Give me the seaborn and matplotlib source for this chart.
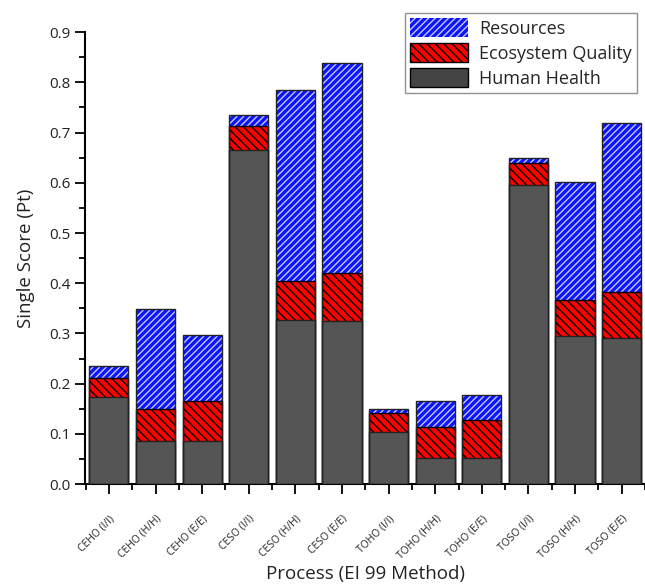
import matplotlib
matplotlib.use("Agg")
import matplotlib.pyplot as plt
import seaborn as sns
import numpy as np
import pandas as pd
from matplotlib.patches import Patch
from matplotlib.ticker import MultipleLocator, FixedLocator, FormatStrFormatter

sns.set_theme(style="ticks")
plt.rcParams['font.family'] = ['Open Sans', 'DejaVu Sans']
plt.rcParams['hatch.linewidth'] = 1.0

processes = ["CEHO (I/I)", "CEHO (H/H)", "CEHO (E/E)",
             "CESO (I/I)", "CESO (H/H)", "CESO (E/E)",
             "TOHO (I/I)", "TOHO (H/H)", "TOHO (E/E)",
             "TOSO (I/I)", "TOSO (H/H)", "TOSO (E/E)"]
human_health = [0.173, 0.086, 0.085, 0.665, 0.326, 0.324,
                0.103, 0.052, 0.052, 0.595, 0.294, 0.291]
ecosystem_quality = [0.039, 0.064, 0.081, 0.048, 0.078, 0.097,
                     0.038, 0.061, 0.075, 0.045, 0.072, 0.091]
resources = [0.023, 0.198, 0.131, 0.022, 0.381, 0.417,
             0.008, 0.052, 0.051, 0.009, 0.235, 0.337]

df = pd.DataFrame({
    "process": processes,
    "hh": human_health,
    "eq": ecosystem_quality,
    "res": resources,
})
df["hh_eq"] = df["hh"] + df["eq"]
df["total"] = df["hh_eq"] + df["res"]

fig = plt.figure(figsize=(6.45, 5.84), dpi=100)
ax = fig.add_axes([0.132, 0.171, 0.868, 0.774])

bw = 0.84
blue, red, grey = "#0a14ff", "#ff0000", "#555555"

# stacked layers drawn as cumulative overlays
sns.barplot(data=df, x="process", y="total", color=blue, width=bw,
            saturation=1, ax=ax, edgecolor="#c8c8ff", linewidth=0,
            hatch="/////", zorder=2)
sns.barplot(data=df, x="process", y="hh_eq", color=red, width=bw,
            saturation=1, ax=ax, edgecolor="black", linewidth=1.0,
            hatch="\\\\\\\\", zorder=3)
sns.barplot(data=df, x="process", y="hh", color=grey, width=bw,
            saturation=1, ax=ax, edgecolor="#222222", linewidth=1.0, zorder=4)
# outline of the full stack
sns.barplot(data=df, x="process", y="total", width=bw, ax=ax,
            fill=False, edgecolor="#222222", linewidth=1.0, zorder=5)

ax.set_xlim(-0.51, 11.5)
ax.set_ylim(0, 0.9)
ax.yaxis.set_major_locator(MultipleLocator(0.1))
ax.yaxis.set_minor_locator(MultipleLocator(0.05))
ax.yaxis.set_major_formatter(FormatStrFormatter("%.1f"))
ax.xaxis.set_minor_locator(FixedLocator(np.arange(-0.5, 12, 1.0)))
ax.tick_params(axis="both", which="major", direction="out", length=7,
               width=1.3, color="black")
ax.tick_params(axis="both", which="minor", direction="out", length=4,
               width=1.3, color="black")
ax.tick_params(axis="y", labelsize=11, labelcolor="#222222")
ax.tick_params(axis="x", pad=14)
ax.set_xticks(range(len(processes)))
ax.set_xticklabels(processes, rotation=45, ha="right",
                   rotation_mode="anchor", fontsize=7.5, color="#222222")

for s in ["top", "right"]:
    ax.spines[s].set_visible(False)
for s in ["left", "bottom"]:
    ax.spines[s].set_linewidth(1.5)
    ax.spines[s].set_color("black")

ax.set_xlabel("Process (EI 99 Method)", fontsize=13.5, color="#222222")
ax.xaxis.set_label_coords(0.5, -0.178)
ax.set_ylabel("Single Score (Pt)", fontsize=13.5, labelpad=10, color="#222222")

handles = [
    Patch(facecolor=blue, edgecolor="#c8c8ff", hatch="/////", linewidth=0),
    Patch(facecolor=red, edgecolor="black", hatch="\\\\\\\\"),
    Patch(facecolor="#444444", edgecolor="black"),
]
leg = fig.legend(handles, ["Resources", "Ecosystem Quality", "Human Health"],
                 loc="upper right", bbox_to_anchor=(0.988, 0.978), fontsize=13,
                 frameon=True, fancybox=False, edgecolor="#777777",
                 handlelength=3.2, handleheight=1.25, borderpad=0.3,
                 labelspacing=0.3, handletextpad=0.6, borderaxespad=0)
leg.get_frame().set_linewidth(1.0)

fig.savefig("out.png", dpi=100)
